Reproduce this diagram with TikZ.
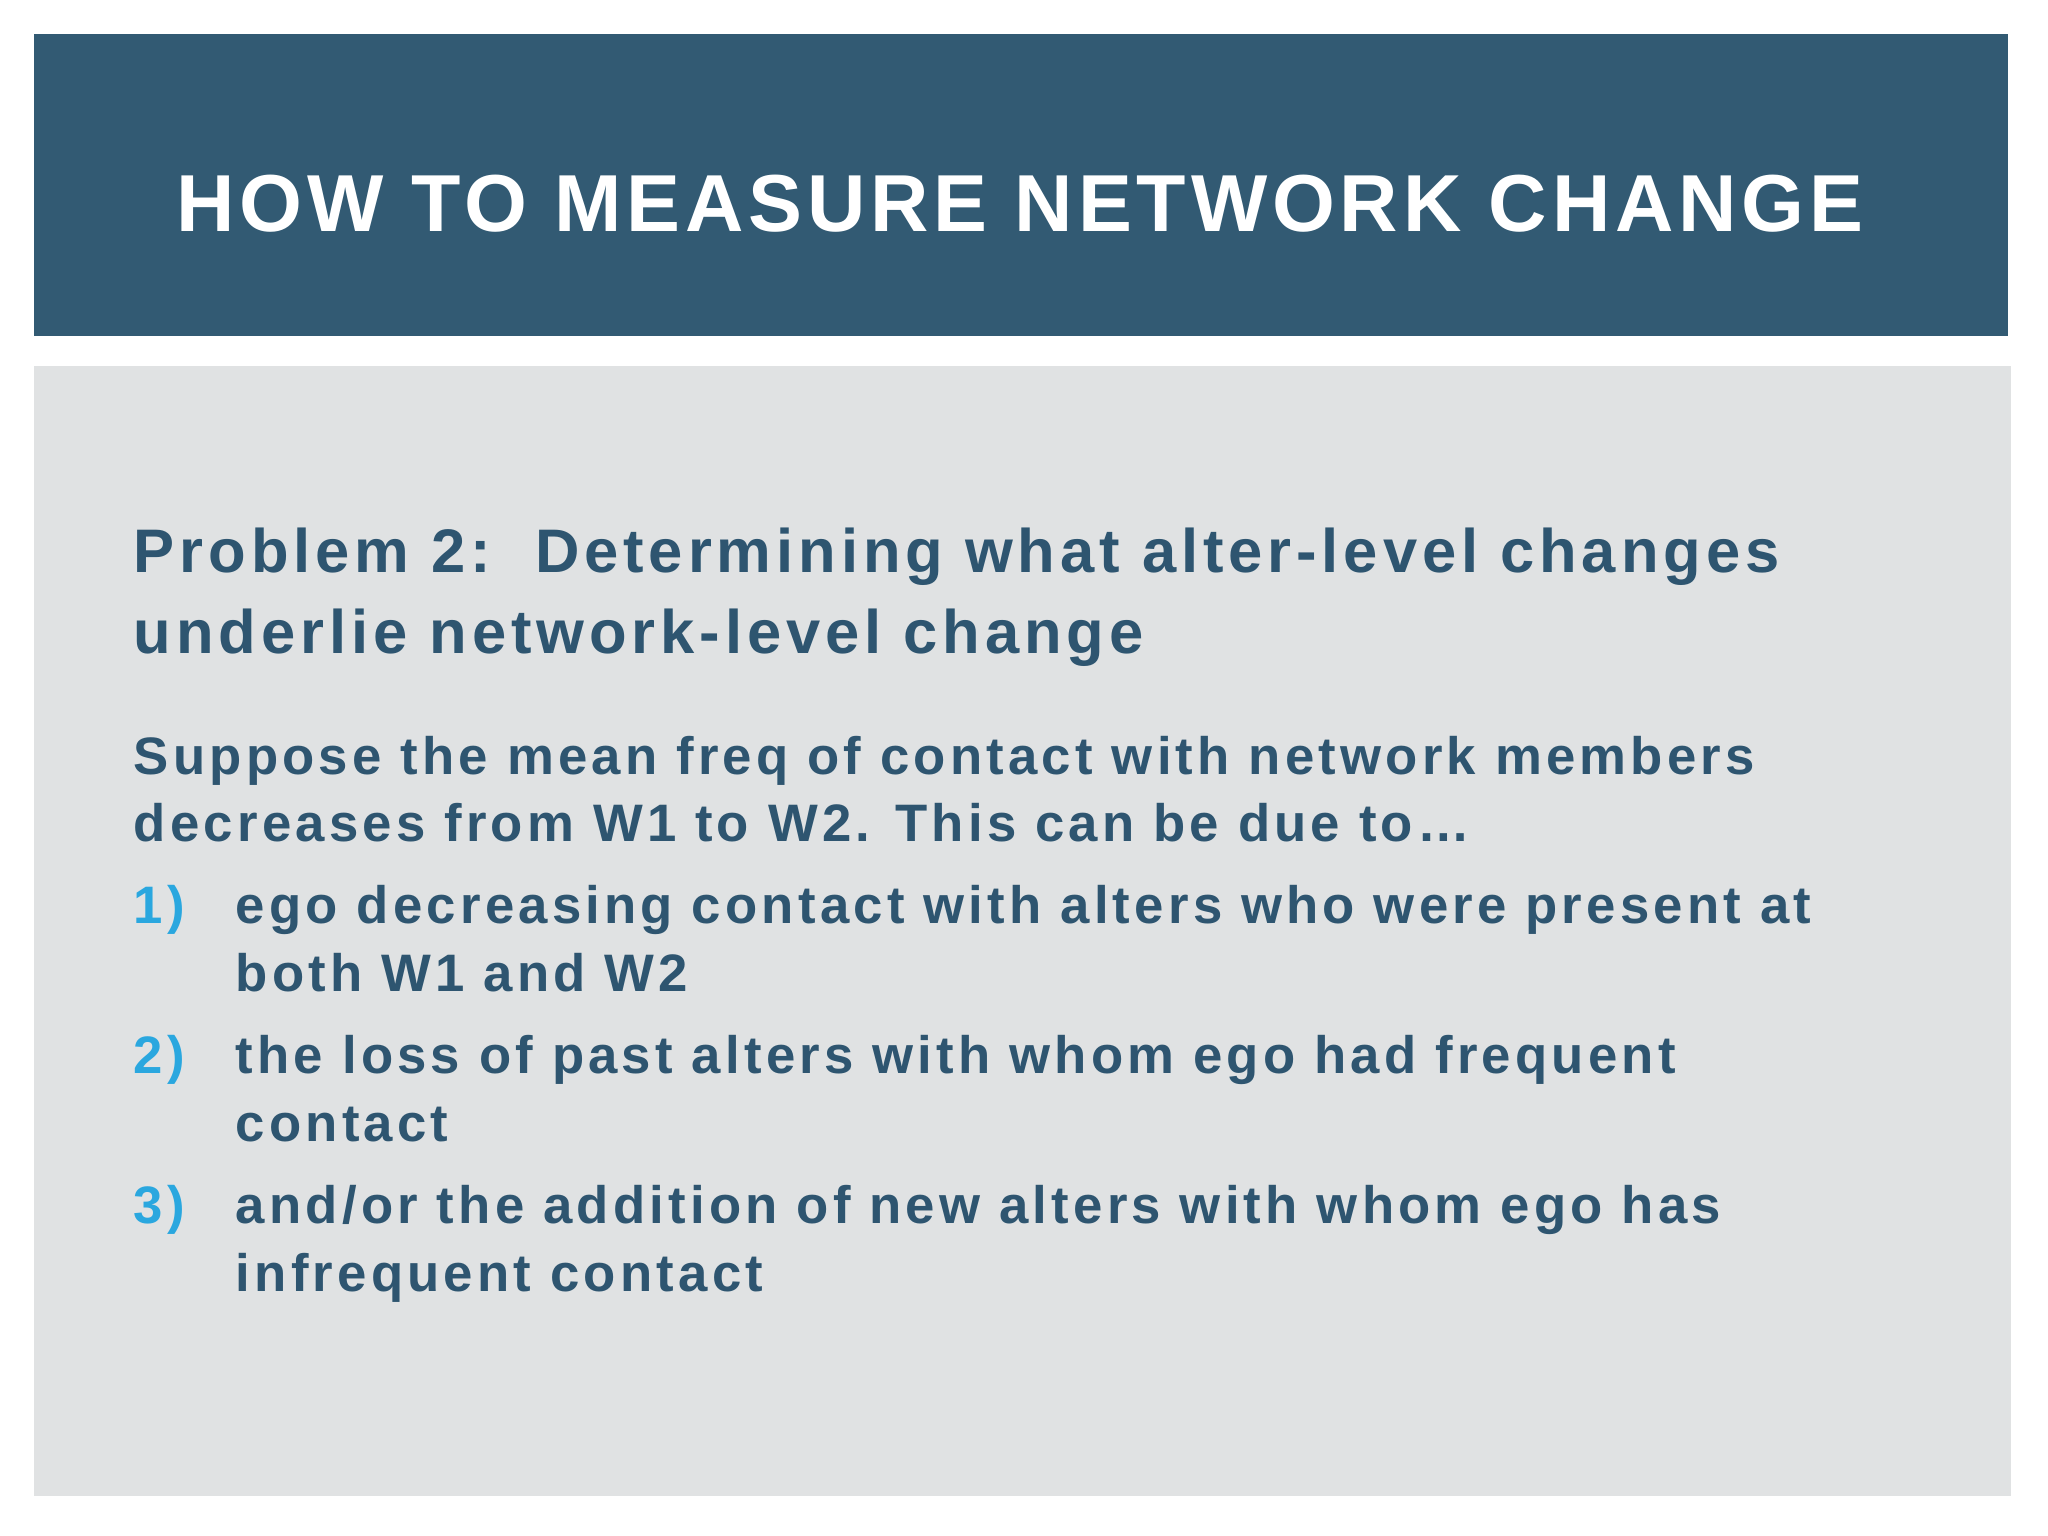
\documentclass[tikz,border=0pt]{standalone}
\usepackage{fontspec}
\setmainfont{Liberation Sans}
\newfontfamily\spaced[LetterSpace=8]{Liberation Sans}
\newfontfamily\tspaced[LetterSpace=6]{Liberation Sans}
\definecolor{bar}{HTML}{325A73}
\definecolor{bg}{HTML}{E0E2E3}
\definecolor{txt}{HTML}{2E5570}
\definecolor{num}{HTML}{2AA7DF}
\begin{document}
\begin{tikzpicture}[x=0.013061cm,y=-0.013061cm,
  ln/.style={anchor=base west,inner sep=0,text=txt,font=\spaced\bfseries\fontsize{15}{18}\selectfont},
  nm/.style={anchor=base west,inner sep=0,text=num,font=\spaced\bfseries\fontsize{15}{18}\selectfont},
  hd/.style={anchor=base west,inner sep=0,text=txt,font=\spaced\bfseries\fontsize{17.5}{22}\selectfont}]
\useasboundingbox (0,0) rectangle (1568,1176);
\fill[white] (0,0) rectangle (1568,1176);
\fill[bar] (26,26) rectangle (1537,257);
\fill[bg] (26,280) rectangle (1540,1145);
\node[text=white,font=\tspaced\bfseries\fontsize{23}{28}\selectfont,inner sep=0,anchor=base] (title) at (781,177) {HOW TO MEASURE NETWORK CHANGE};
\node[hd] (p1) at (102,438) {Problem 2:\ \ Determining what alter-level changes};
\node[hd] (p2) at (102,500) {underlie network-level change};
\node[ln] (s1) at (102,593) {Suppose the mean freq of contact with network members};
\node[ln] (s2) at (102,644) {decreases from W1 to W2. This can be due to\dots};
\node[nm] (n1) at (102,707) {1)};
\node[ln] (a1) at (180,707) {ego decreasing contact with alters who were present at};
\node[ln] (a2) at (180,759) {both W1 and W2};
\node[nm] (n2) at (102,822) {2)};
\node[ln] (b1) at (180,822) {the loss of past alters with whom ego had frequent};
\node[ln] (b2) at (180,874) {contact};
\node[nm] (n3) at (102,937) {3)};
\node[ln] (c1) at (180,937) {and/or the addition of new alters with whom ego has};
\node[ln] (c2) at (180,989) {infrequent contact};
\end{tikzpicture}
\end{document}
